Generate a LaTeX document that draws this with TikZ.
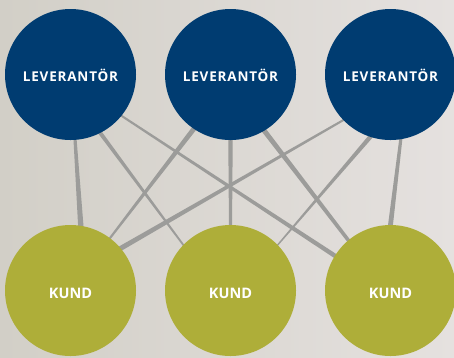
\documentclass[tikz,border=0pt]{standalone}
\usepackage{fontspec}
\setmainfont{Open Sans}
\usetikzlibrary{calc}
\definecolor{leverantor}{RGB}{0,60,113}
\definecolor{kund}{RGB}{174,174,57}
\definecolor{link}{RGB}{156,156,154}
\definecolor{bgleft}{RGB}{210,207,199}
\definecolor{bgmid}{RGB}{226,223,215}
\definecolor{bgright}{RGB}{229,225,223}
\pgfdeclarelayer{back}
\pgfdeclarelayer{links}
\pgfsetlayers{back,links,main}
\newfontfamily\spacedfont[LetterSpace=6]{Open Sans}
\newcommand{\taper}[4]{%
  \coordinate (ta) at ($(#1)!-6pt!(#2)$);
  \coordinate (tb) at ($(#2)!-6pt!(#1)$);
  \fill[link] ($(ta)!#3!90:(tb)$) -- ($(tb)!#4!-90:(ta)$)
    -- ($(tb)!#4!90:(ta)$) -- ($(ta)!#3!-90:(tb)$) -- cycle;}
\begin{document}
\begin{tikzpicture}[x=1pt,y=-1pt,
    party/.style={circle,minimum size=131pt,inner sep=0pt,text=white},
    supplier/.style={party,fill=leverantor,font=\spacedfont\bfseries\fontsize{13.5}{15}\selectfont,
      text height=14.5pt,text depth=0pt},
    customer/.style={party,fill=kund,font=\bfseries\fontsize{14.5}{16}\selectfont,
      text height=15.5pt,text depth=0pt}]
   \useasboundingbox (0,0) rectangle (454,357);
   \node[supplier] (l1) at (70.5,74.5) {LEVERANTÖR};
   \node[supplier] (l2) at (230.5,74.5) {LEVERANTÖR};
   \node[supplier] (l3) at (390.5,74.5) {LEVERANTÖR};
   \node[customer] (k1) at (70.5,290.5) {KUND};
   \node[customer] (k2) at (230.5,290.5) {KUND};
   \node[customer] (k3) at (390.5,290.5) {KUND};
   \begin{pgfonlayer}{links}
      \taper{l1.-86}{k1.81.5}{1.5pt}{2.75pt}
      \taper{l1.-63}{k2.136}{2pt}{0.85pt}
      \taper{l1.-39.5}{k3.148.7}{1pt}{2.25pt}
      \taper{l2.-124}{k1.53.7}{2.5pt}{1pt}
      \taper{l2.-90}{k2.90}{2.25pt}{1.5pt}
      \taper{l2.-59.3}{k3.130}{2.5pt}{1.75pt}
      \taper{l3.-136}{k1.40.5}{1pt}{2.5pt}
      \taper{l3.-108}{k2.44}{2.25pt}{0.65pt}
      \taper{l3.-81.6}{k3.90.5}{1.5pt}{2.5pt}
   \end{pgfonlayer}
   \begin{pgfonlayer}{back}
      \shade[left color=bgleft,middle color=bgmid,right color=bgright] (0,0) rectangle (454,357);
   \end{pgfonlayer}
\end{tikzpicture}
\end{document}
